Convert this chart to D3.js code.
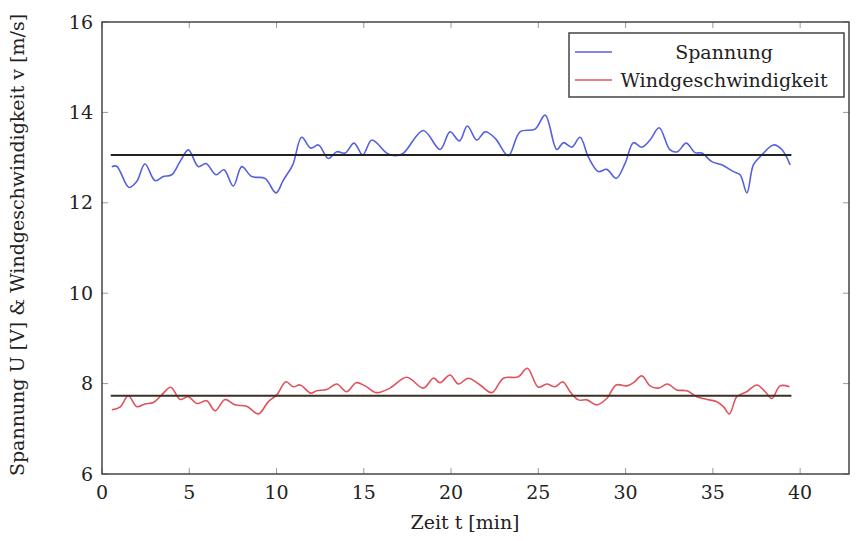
<!DOCTYPE html>
<html>
<head>
<meta charset="utf-8">
<script src="https://cdnjs.cloudflare.com/ajax/libs/d3/7.8.5/d3.min.js"></script>
<style>
body { margin: 0; background: #fff; }
text { font-family: "DejaVu Serif", "Liberation Serif", serif; fill: #222; }
</style>
</head>
<body>
<div id="chart"></div>
<script>
var spannungT = [0.56,0.84,1.55,1.99,2.46,3.04,3.51,3.99,4.47,4.95,5.52,5.96,6.53,6.99,7.52,8.01,8.58,9.34,9.97,10.39,10.93,11.44,11.96,12.40,12.97,13.45,13.93,14.44,14.94,15.46,16.32,16.79,17.27,18.41,19.37,19.94,20.48,20.93,21.47,21.95,22.52,23.28,23.95,24.81,25.39,26.06,26.44,26.92,27.39,27.87,28.44,28.92,29.46,29.97,30.45,30.93,31.40,31.92,32.55,32.97,33.47,33.98,34.37,34.94,35.51,36.18,36.56,36.95,37.32,37.71,38.47,38.95,39.43];
var spannungV = [12.80,12.81,12.34,12.47,12.86,12.49,12.58,12.62,12.91,13.17,12.80,12.87,12.62,12.73,12.37,12.80,12.58,12.54,12.22,12.50,12.84,13.45,13.21,13.28,12.98,13.13,13.10,13.32,13.06,13.39,13.10,13.04,13.10,13.60,13.18,13.57,13.37,13.70,13.39,13.57,13.43,13.04,13.57,13.63,13.94,13.18,13.33,13.23,13.45,13.01,12.69,12.74,12.54,12.87,13.33,13.23,13.39,13.66,13.17,13.13,13.32,13.11,13.10,12.91,12.84,12.69,12.62,12.22,12.84,13.02,13.28,13.18,12.84];

var windT = [0.56,1.03,1.51,1.99,2.46,2.94,3.42,3.94,4.47,4.95,5.43,6.00,6.48,7.05,7.62,8.29,8.96,9.53,10.01,10.54,10.96,11.35,11.96,12.30,12.88,13.45,14.02,14.56,15.07,15.74,16.50,17.46,18.41,18.99,19.37,19.94,20.42,20.99,21.66,22.33,23.00,23.86,24.37,25.00,25.48,25.96,26.40,26.82,27.30,27.78,28.35,28.92,29.46,30.07,30.45,30.93,31.40,31.88,32.40,32.93,33.51,34.08,34.65,35.23,35.60,35.95,36.37,36.94,37.52,38.00,38.38,38.85,39.39];
var windV = [7.42,7.48,7.73,7.49,7.55,7.58,7.75,7.92,7.65,7.71,7.56,7.62,7.40,7.65,7.53,7.50,7.33,7.60,7.75,8.04,7.93,7.97,7.79,7.84,7.87,7.99,7.82,8.02,7.95,7.80,7.90,8.14,7.90,8.12,8.02,8.19,7.99,8.12,7.97,7.80,8.12,8.15,8.34,7.92,7.99,7.93,8.04,7.82,7.64,7.64,7.53,7.67,7.97,7.95,8.02,8.17,7.95,7.90,7.99,7.86,7.84,7.71,7.65,7.60,7.49,7.33,7.71,7.82,7.97,7.82,7.67,7.95,7.93];

// mean lines (start, end, value)
var meanRange = [0.5, 39.5];
var meanValues = [13.06, 7.73];

var seriesNames = ["Spannung", "Windgeschwindigkeit"];
var seriesColors = ["#5560e0", "#e2525e"];

var xTicks = [0, 5, 10, 15, 20, 25, 30, 35, 40];
var yTicks = [6, 8, 10, 12, 14, 16];

// set the dimensions and margins of the graph
var margin = {top: 22, right: 13, bottom: 67, left: 102},
    width = 862 - margin.left - margin.right,
    height = 541 - margin.top - margin.bottom;

// set the ranges
var x = d3.scaleLinear().domain([0, 42.8]).range([0, width]);
var y = d3.scaleLinear().domain([6, 16]).range([height, 0]);

var line = d3.line()
    .x(function(d) { return x(d[0]); })
    .y(function(d) { return y(d[1]); })
    .curve(d3.curveCatmullRom.alpha(0.5));

var svg = d3.select("#chart").append("svg")
    .attr("width", 862)
    .attr("height", 541)
  .append("g")
    .attr("transform", "translate(" + margin.left + "," + margin.top + ")");

// inner ticks on all four sides
var tickLen = 6;
var tg = svg.append("g").attr("stroke", "#999").attr("stroke-width", 1);
xTicks.forEach(function(t) {
  tg.append("line").attr("x1", x(t)).attr("x2", x(t)).attr("y1", height).attr("y2", height - tickLen);
  tg.append("line").attr("x1", x(t)).attr("x2", x(t)).attr("y1", 0).attr("y2", tickLen);
});
yTicks.forEach(function(t) {
  tg.append("line").attr("x1", 0).attr("x2", tickLen).attr("y1", y(t)).attr("y2", y(t));
  tg.append("line").attr("x1", width).attr("x2", width - tickLen).attr("y1", y(t)).attr("y2", y(t));
});

// Add the X Axis labels
svg.selectAll(".xlab")
    .data(xTicks)
  .enter().append("text")
    .attr("x", function(d) { return x(d); })
    .attr("y", height + 25)
    .style("text-anchor", "middle")
    .style("font-size", "19px")
    .text(function(d) { return d; });

// Add the Y Axis labels
svg.selectAll(".ylab")
    .data(yTicks)
  .enter().append("text")
    .attr("x", -9)
    .attr("y", function(d) { return y(d); })
    .attr("dy", ".35em")
    .style("text-anchor", "end")
    .style("font-size", "19px")
    .text(function(d) { return d; });

// data lines
var blueData = spannungT.map(function(t, i) { return [t, spannungV[i]]; });
var redData = windT.map(function(t, i) { return [t, windV[i]]; });

svg.append("path")
    .datum(blueData)
    .attr("d", line)
    .attr("fill", "none")
    .attr("stroke", seriesColors[0])
    .attr("stroke-width", 1.6);

svg.append("path")
    .datum(redData)
    .attr("d", line)
    .attr("fill", "none")
    .attr("stroke", seriesColors[1])
    .attr("stroke-width", 1.6);

// mean lines
meanValues.forEach(function(m, i) {
  svg.append("line")
      .attr("x1", x(meanRange[0]))
      .attr("x2", x(meanRange[1]))
      .attr("y1", y(m))
      .attr("y2", y(m))
      .attr("stroke", i == 0 ? "#222" : "#3a3020")
      .attr("stroke-width", 2);
});

// frame
svg.append("rect")
    .attr("width", width)
    .attr("height", height)
    .attr("fill", "none")
    .attr("stroke", "#444")
    .attr("stroke-width", 1.5);

// axis titles
svg.append("text")
    .attr("x", x(20.8))
    .attr("y", height + 55)
    .style("text-anchor", "middle")
    .style("font-size", "19px")
    .text("Zeit t [min]");

svg.append("text")
    .attr("transform", "translate(" + (-78) + "," + (y(11) - 3) + ") rotate(-90)")
    .style("text-anchor", "middle")
    .style("font-size", "19px")
    .text("Spannung U [V] & Windgeschwindigkeit v [m/s]");

// legend
var lg = svg.append("g")
    .attr("transform", "translate(" + (569 - margin.left) + "," + (33 - margin.top) + ")");

lg.append("rect")
    .attr("width", 275)
    .attr("height", 64)
    .attr("fill", "#fff")
    .attr("stroke", "#444")
    .attr("stroke-width", 1.5);

var legend = lg.selectAll(".legend")
    .data(seriesNames)
  .enter().append("g")
    .attr("class", "legend")
    .attr("transform", function(d, i) { return "translate(0," + (19 + i * 28) + ")"; });

legend.append("line")
    .attr("x1", 6)
    .attr("x2", 43)
    .attr("stroke", function(d, i) { return seriesColors[i]; })
    .attr("stroke-width", 1.6);

legend.append("text")
    .attr("x", 155)
    .attr("dy", ".35em")
    .style("text-anchor", "middle")
    .style("font-size", "19px")
    .text(function(d) { return d; });
</script>
</body>
</html>
